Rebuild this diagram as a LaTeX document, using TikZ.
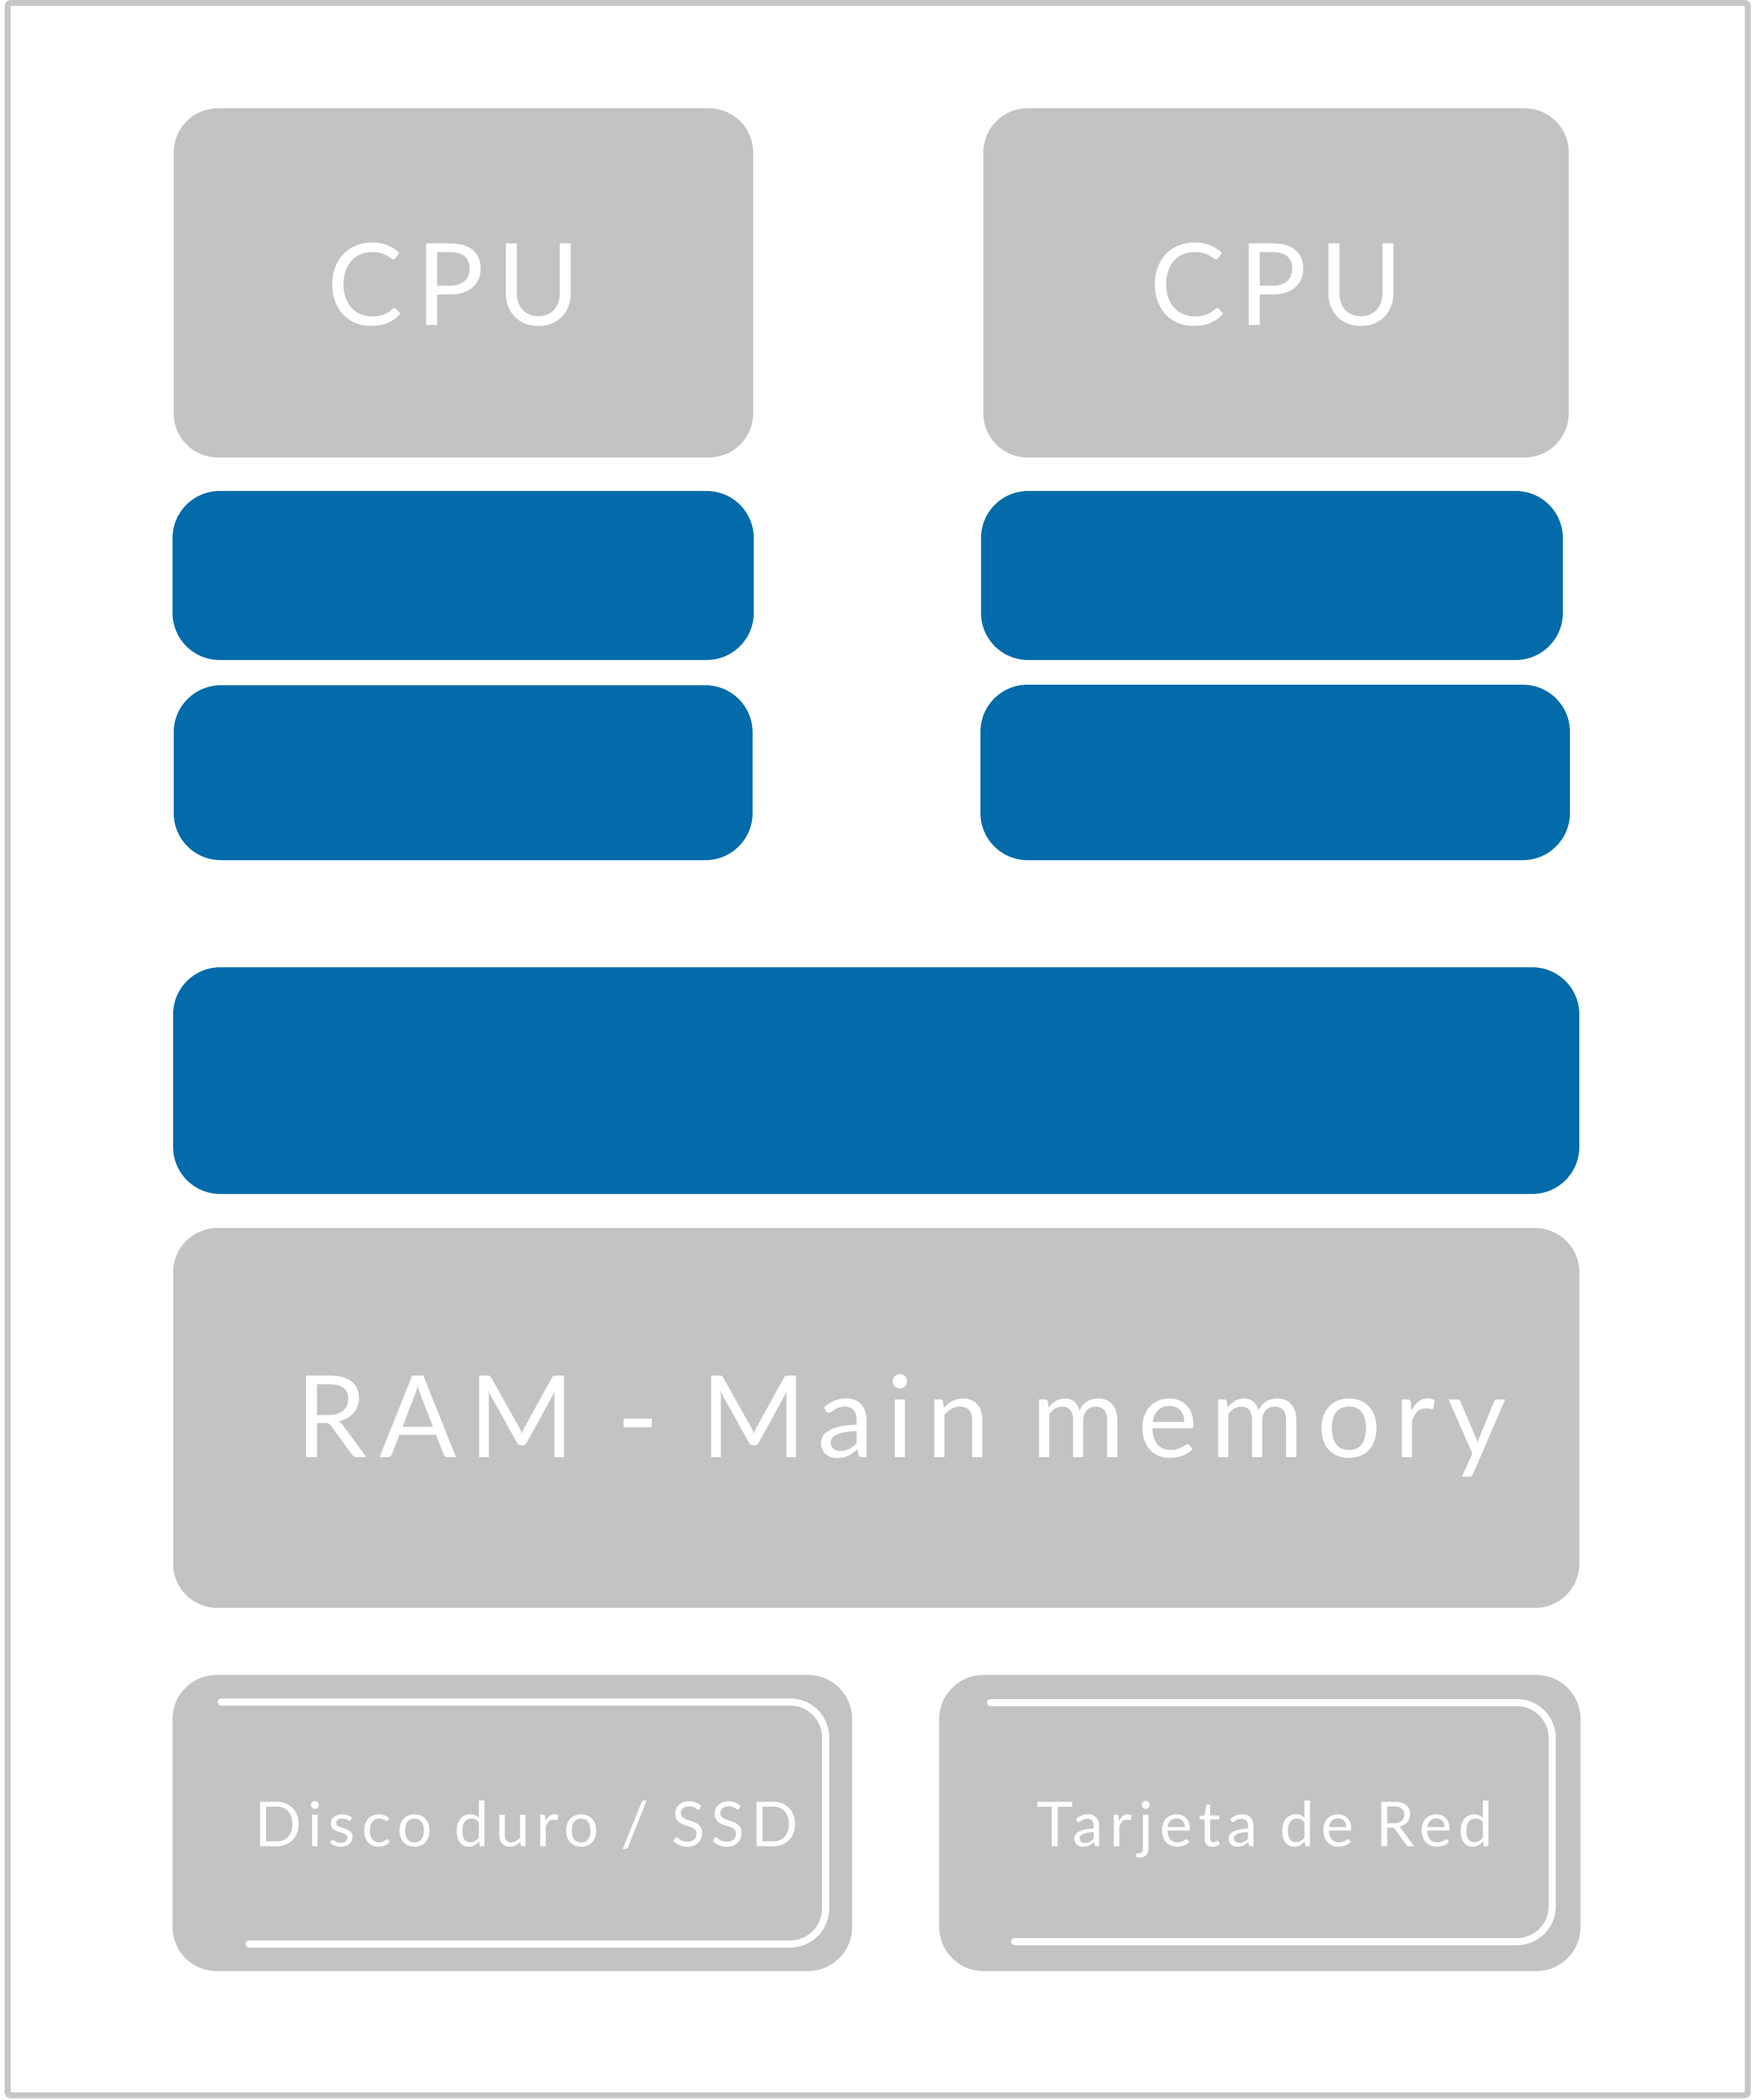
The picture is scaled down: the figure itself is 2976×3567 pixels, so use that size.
\documentclass[tikz,border=0pt]{standalone}
\usepackage{fontspec}
\setmainfont{Lato}
\newfontfamily\labelfont{Lato}[LetterSpace=11]
\newfontfamily\smalllabelfont{Lato}[LetterSpace=10]
\definecolor{boxgray}{HTML}{C3C3C3}
\definecolor{busblue}{HTML}{036BAA}
\definecolor{framegray}{HTML}{C6C6C6}

\begin{document}
\begin{tikzpicture}[x=0.01cm,y=-0.01cm,
	gray box/.style={fill=boxgray,rounded corners=0.75cm},
	blue box/.style={fill=busblue,rounded corners=0.8cm},
	slot/.style={draw=white,line width=0.12cm,line cap=round,rounded corners=0.6cm},
	big label/.style={anchor=base,text=white,font=\labelfont\fontsize{55}{60}\selectfont},
	small label/.style={anchor=base,text=white,font=\smalllabelfont\fontsize{30}{34}\selectfont}]
	\useasboundingbox (0,0) rectangle (2976,3567);

	%frame
	\draw[framegray,line width=0.1cm,rounded corners=0.05cm] (13,5) rectangle (2968,3559);

	%cpus
	\fill[gray box] (295,184) rectangle (1279,777); %left cpu
	\fill[gray box] (1670,184) rectangle (2664,777); %right cpu

	%caches
	\fill[blue box] (293,834) rectangle (1280,1121); %left L1
	\fill[blue box] (295,1164) rectangle (1278,1461); %left L2
	\fill[blue box] (1666,834) rectangle (2654,1121); %right L1
	\fill[blue box] (1665,1163) rectangle (2666,1461); %right L2

	%bus and memory
	\fill[blue box] (294,1643) rectangle (2682,2028); %shared bus
	\fill[gray box] (294,2086) rectangle (2682,2731); %ram

	%devices
	\fill[gray box] (293,2845) rectangle (1447,3348); %disk
	\draw[slot] (376,2891) -- (1402,2891) -- (1402,3302) -- (423,3302); %disk slot
	\fill[gray box] (1595,2845) rectangle (2684,3348); %network card
	\draw[slot] (1682,2892) -- (2636,2892) -- (2636,3298) -- (1723,3298); %network slot

	%labels
	\node[big label] (cpuA) at (771,553) {CPU};
	\node[big label] (cpuB) at (2168,553) {CPU};
	\node[big label] (ram) at (1530,2475) {RAM - Main memory};
	\node[small label] (disk) at (894,3136) {Disco duro / SSD};
	\node[small label] (nic) at (2148,3136) {Tarjeta de Red};
\end{tikzpicture}
\end{document}
